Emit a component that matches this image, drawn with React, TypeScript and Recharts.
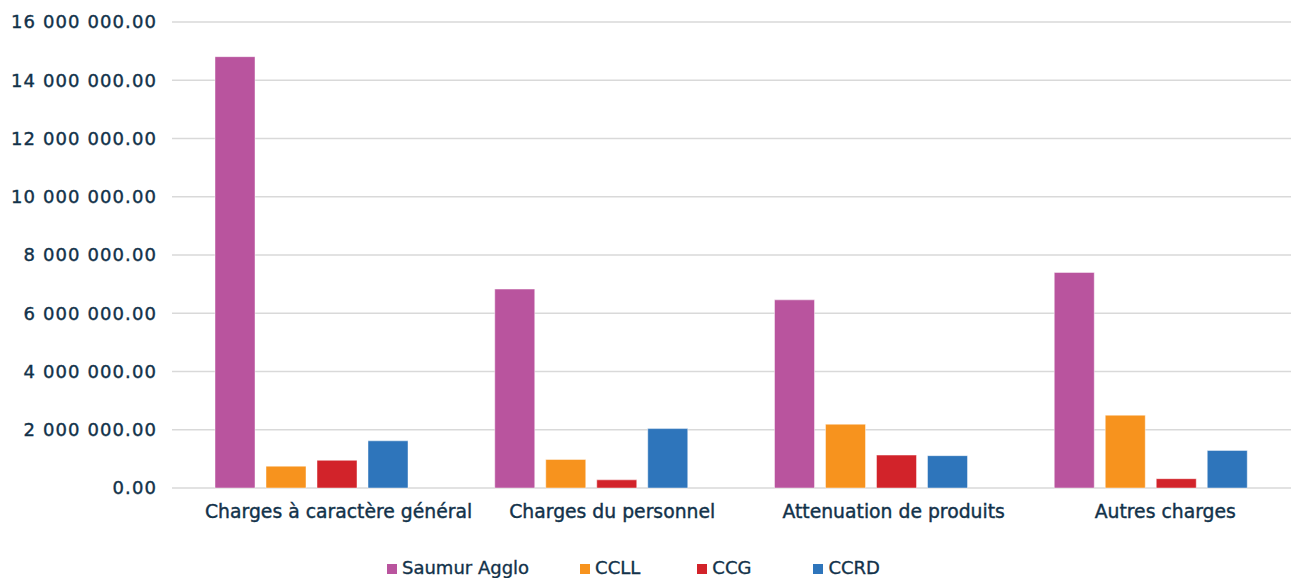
import React from 'react';
import { BarChart, Bar, XAxis, YAxis, CartesianGrid, Legend } from 'recharts';

const categories = ['Charges à caractère général', 'Charges du personnel', 'Attenuation de produits', 'Autres charges'];
const saumurAgglo = [14810000, 6830000, 6460000, 7400000];
const ccll = [750000, 980000, 2190000, 2500000];
const ccg = [950000, 280000, 1130000, 320000];
const ccrd = [1620000, 2040000, 1110000, 1290000];
const yTicks = [0, 2000000, 4000000, 6000000, 8000000, 10000000, 12000000, 14000000, 16000000];

const seriesNames = ['Saumur Agglo', 'CCLL', 'CCG', 'CCRD'];
const seriesKeys = ['saumur', 'ccll', 'ccg', 'ccrd'];
const seriesColors = ['#B9549E', '#F7931E', '#D2232A', '#2E75BB'];
const legendGaps = [51, 57, 62, 0];

const data = categories.map((c, i) => ({
  name: c,
  saumur: saumurAgglo[i],
  ccll: ccll[i],
  ccg: ccg[i],
  ccrd: ccrd[i],
}));

const FONT = '"DejaVu Sans", sans-serif';
const TEXT = '#12324A';

const fmt = (v: number) => {
  const s = v.toFixed(2);
  const [int, dec] = s.split('.');
  return int.replace(/\B(?=(\d{3})+(?!\d))/g, ' ') + '.' + dec;
};

let ctx: CanvasRenderingContext2D | null = null;
const measure = (t: string, size: number) => {
  if (!ctx) ctx = document.createElement('canvas').getContext('2d');
  if (!ctx) return t.length * size * 0.6;
  ctx.font = `${size}px "DejaVu Sans"`;
  return ctx.measureText(t).width;
};

const XTick = (props: any) => {
  const { x, y, payload } = props;
  const size = 18.8;
  const w = measure(payload.value, size);
  return (
    <text x={x - 0.4 * w} y={y + 30} textAnchor="start" fontFamily={FONT} fontSize={size} fill={TEXT} stroke={TEXT} strokeWidth={0.4}>
      {payload.value}
    </text>
  );
};

const YTick = (props: any) => {
  const { x, y, payload } = props;
  return (
    <text x={x + 1} y={y} dy="0.36em" textAnchor="end" fontFamily={FONT} fontSize={18} letterSpacing={1.1} fill={TEXT} stroke={TEXT} strokeWidth={0.4}>
      {fmt(payload.value)}
    </text>
  );
};

const LegendContent = () => (
  <div style={{ height: 20, marginTop: -1, display: 'flex', justifyContent: 'flex-start', alignItems: 'center', paddingLeft: 387, fontFamily: FONT, fontSize: 18, color: TEXT, WebkitTextStroke: '0.35px ' + TEXT }}>
    {seriesNames.map((n, i) => (
      <div key={n} style={{ display: 'flex', alignItems: 'center', marginRight: legendGaps[i] }}>
        <span style={{ display: 'inline-block', width: 10, height: 10, background: seriesColors[i], marginRight: 5, marginTop: 3 }} />
        <span>{n}</span>
      </div>
    ))}
  </div>
);

export default function App() {
  return (
    <div style={{ position: 'absolute', left: 0, top: 0, width: 1291, height: 578, background: '#fff', overflow: 'hidden' }}>
      <BarChart
        width={1291}
        height={578}
        data={data}
        margin={{ top: 22, right: 0, bottom: 0, left: 0 }}
        barSize={40}
        barGap={11}
      >
        <CartesianGrid vertical={false} stroke="#D9D9D9" strokeWidth={1.5} />
        <XAxis dataKey="name" height={70} axisLine={false} tickLine={false} tickSize={0} tickMargin={0} tick={<XTick />} interval={0} />
        <YAxis width={172} domain={[0, 16000000]} ticks={yTicks} axisLine={false} tickLine={false} tickSize={0} tickMargin={16} tick={<YTick />} interval={0} />
        <Legend verticalAlign="bottom" height={20} content={<LegendContent />} />
        {seriesKeys.map((k, i) => (
          <Bar key={k} dataKey={k} name={seriesNames[i]} fill={seriesColors[i]} stroke="rgba(255,255,255,0.45)" strokeWidth={1} isAnimationActive={false} />
        ))}
      </BarChart>
    </div>
  );
}
